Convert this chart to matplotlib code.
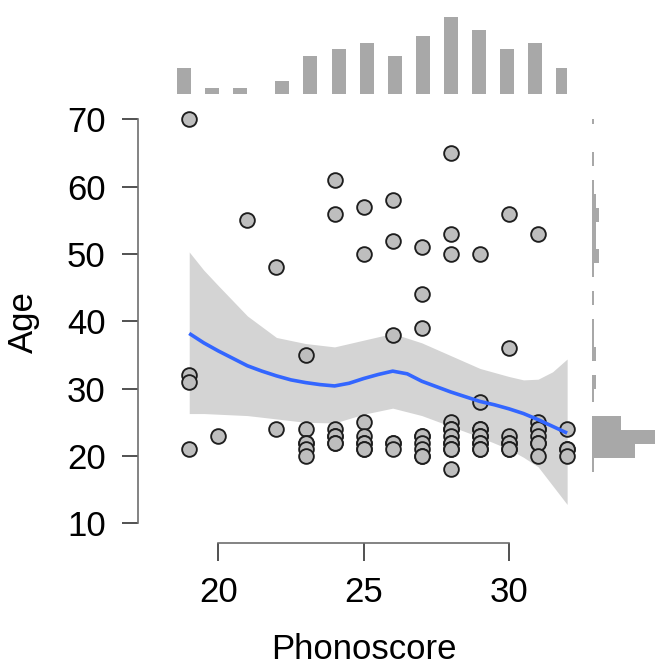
"""Phonoscore vs Age scatter with loess band and marginal histograms."""

import numpy as np
import matplotlib

matplotlib.use("Agg")
import matplotlib.pyplot as plt  # noqa: E402

plt.rcParams["font.family"] = ["Liberation Sans", "DejaVu Sans"]

# --- data ------------------------------------------------------------------
phonoscore = [19] * 4 + [20, 21, 22, 22] + [23] * 6 + [24] * 7 + [25] * 8 \
    + [26] * 6 + [27] * 9 + [28] * 12 + [29] * 10 + [30] * 7 + [31] * 8 + [32] * 4
age = [70, 32, 31, 21,
       23,
       55,
       48, 24,
       35, 24, 22, 22, 21, 20,
       61, 56, 24, 23, 23, 22, 22,
       57, 50, 25, 23, 22, 22, 21, 21,
       58, 52, 38, 22, 22, 21,
       51, 44, 39, 23, 23, 22, 21, 20, 20,
       65, 53, 50, 25, 24, 24, 23, 22, 22, 21, 21, 18,
       50, 28, 24, 24, 23, 23, 22, 22, 21, 21,
       56, 36, 23, 22, 22, 21, 21,
       53, 25, 24, 24, 23, 22, 22, 20,
       24, 21, 21, 20]

# loess fit and its confidence band
fit_x = [19, 19.5, 20, 20.5, 21, 21.5, 22, 22.5, 23, 23.5, 24, 24.5, 25,
         25.5, 26, 26.5, 27, 27.5, 28, 28.5, 29, 29.5, 30, 30.5, 31, 31.5, 32]
fit_y = [38.2, 36.8, 35.6, 34.5, 33.4, 32.6, 31.9, 31.3, 30.9, 30.6, 30.4,
         30.8, 31.5, 32.1, 32.6, 32.2, 31.1, 30.3, 29.5, 28.8, 28.1, 27.6,
         27.0, 26.3, 25.4, 24.4, 23.4]
band_x = [19, 19.5, 20, 21, 22, 23, 24, 25, 26, 27, 28, 29, 30, 30.5, 31,
          31.5, 32]
band_hi = [50.3, 47.6, 45.3, 40.8, 37.6, 36.7, 36.2, 37.2, 38.2, 36.8, 34.9,
           33.0, 31.8, 31.3, 31.4, 32.5, 34.4]
band_lo = [26.3, 26.3, 26.2, 26.0, 25.5, 25.0, 24.9, 26.2, 27.1, 26.0, 24.4,
           22.8, 21.0, 19.8, 18.4, 15.6, 12.8]

# top marginal histogram: bar centres (as drawn) per phonoscore level
top_levels = list(range(19, 33))
top_bar_x = [18.82, 19.78, 20.75, 22.20, 23.17, 24.14, 25.10, 26.07, 27.03,
             28.00, 28.96, 29.93, 30.90, 31.87]

# right marginal histogram bin edges for age
age_edges = np.linspace(17.62, 71.34, 27)

# --- layout (pixels of a 660x668 canvas) ------------------------------------
W, H = 660, 668
XPX, YPX = 29.07, 6.733          # pixels per data unit
MAIN = (138, 110, 580, 543)      # left, top, right, bottom
X0, Y0 = 17.238, 7.074           # data value at main left / bottom edge
GREY = "#a8a8a8"
FS = 25


def box(l, t, r, b):
    return [l / W, 1 - b / H, (r - l) / W, (b - t) / H]


fig = plt.figure(figsize=(W / 100, H / 100), dpi=100)

ax = fig.add_axes(box(*MAIN))
l, t, r, b = MAIN
ax.set_xlim(X0, X0 + (r - l) / XPX)
ax.set_ylim(Y0, Y0 + (b - t) / YPX)
ax.fill_between(band_x, band_lo, band_hi, color="#d4d4d4", lw=0, zorder=1)
ax.scatter(phonoscore, age, s=112, facecolor="#bebebe", edgecolor="#1e1e1e",
           linewidth=1.35, zorder=2)
ax.plot(fit_x, fit_y, color="#3366ff", lw=2.6, zorder=3,
        solid_capstyle="butt", solid_joinstyle="round")

for side in ("top", "right"):
    ax.spines[side].set_visible(False)
ax.spines["left"].set_bounds(10, 70)
ax.spines["bottom"].set_bounds(20, 30)
for side in ("left", "bottom"):
    ax.spines[side].set_color("#6e6e6e")
    ax.spines[side].set_linewidth(1.2)
ax.set_xticks([20, 25, 30])
ax.set_yticks(range(10, 71, 10))
ax.tick_params(axis="x", length=13, width=1.2, color="#333333", pad=11,
               labelsize=FS)
ax.tick_params(axis="y", length=11.3, width=1.2, color="#333333", pad=12,
               labelsize=FS)
ax.set_xlabel("Phonoscore", fontsize=FS)
ax.set_ylabel("Age", fontsize=FS)
ax.xaxis.set_label_coords((364 - l) / (r - l), (b - 633) / (b - t))
ax.yaxis.set_label_coords((40 - l) / (r - l), (b - 322) / (b - t))

# top histogram
top_counts = [phonoscore.count(v) for v in top_levels]
xr = l + (32 - X0) * XPX
axt = fig.add_axes(box(l, 5, xr, 94.3))
axt.set_xlim(X0, 32)
axt.set_ylim(0, (94.3 - 5) / 6.45)
axt.bar(top_bar_x, top_counts, width=0.48, color=GREY, lw=0)
axt.axis("off")

# right histogram
counts, _ = np.histogram(age, bins=age_edges)
top70 = b - (70 - Y0) * YPX
axr = fig.add_axes(box(592, top70, 660, b))
axr.set_ylim(Y0, 70)
axr.set_xlim(0, 68 / 2.24)
axr.barh(age_edges[:-1], counts, height=np.diff(age_edges), align="edge",
         color=GREY, lw=0)
axr.axis("off")

fig.savefig("out.png", dpi=100)
